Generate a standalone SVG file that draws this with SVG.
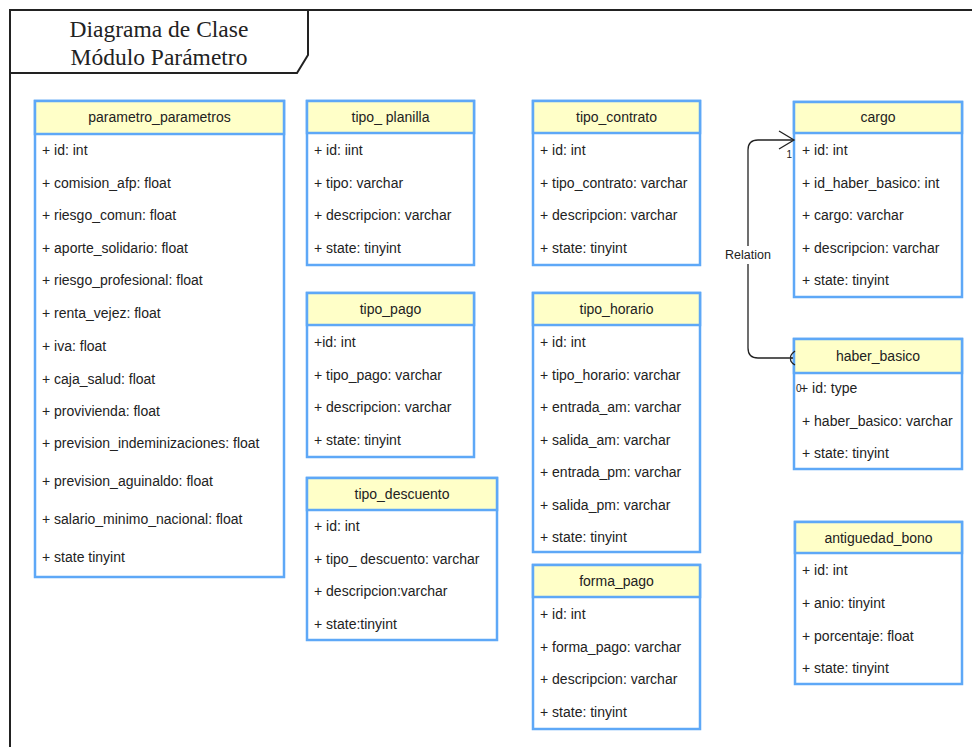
<svg xmlns="http://www.w3.org/2000/svg" width="972" height="747" viewBox="0 0 972 747">
<style>
.box{fill:#ffffff;stroke:#5ea8f7;stroke-width:2.5}
.hdr{fill:#ffffc8;stroke:#5ea8f7;stroke-width:2.5}
.t{font-family:"Liberation Sans",Arial,sans-serif;font-size:14px;fill:#222222}
.h{font-family:"Liberation Sans",Arial,sans-serif;font-size:14px;fill:#222222;text-anchor:middle}
.frame{fill:none;stroke:#222222;stroke-width:2}
.title{font-family:"Liberation Serif","Times New Roman",serif;font-size:23.5px;fill:#222222;text-anchor:middle}
.edge{fill:none;stroke:#222222;stroke-width:1.3}
.lbl{font-family:"Liberation Sans",Arial,sans-serif;font-size:12px;fill:#222222}
</style>
<rect width="972" height="747" fill="#ffffff"/>
<g id="frame">
<path class="frame" d="M10,747 V10 H972"/>
<path class="frame" d="M10,73 H297 L308,55 V10"/>
<text class="title" x="159" y="37">Diagrama de Clase</text>
<text class="title" x="159" y="65">Módulo Parámetro</text>
</g>
<g id="parametro_parametros">
<rect class="box" x="35" y="101" width="249" height="476"/>
<rect class="hdr" x="35" y="101" width="249" height="33"/>
<text class="h" x="159.5" y="122">parametro_parametros</text>
<text class="t" x="42" y="155">+ id: int</text>
<text class="t" x="42" y="188">+ comision_afp: float</text>
<text class="t" x="42" y="220">+ riesgo_comun: float</text>
<text class="t" x="42" y="253">+ aporte_solidario: float</text>
<text class="t" x="42" y="285">+ riesgo_profesional: float</text>
<text class="t" x="42" y="318">+ renta_vejez: float</text>
<text class="t" x="42" y="351">+ iva: float</text>
<text class="t" x="42" y="384">+ caja_salud: float</text>
<text class="t" x="42" y="416">+ provivienda: float</text>
<text class="t" x="42" y="448">+ prevision_indeminizaciones: float</text>
<text class="t" x="42" y="486">+ prevision_aguinaldo: float</text>
<text class="t" x="42" y="524">+ salario_minimo_nacional: float</text>
<text class="t" x="42" y="562">+ state tinyint</text>
</g>
<g id="tipo_planilla">
<rect class="box" x="307" y="101" width="167" height="164"/>
<rect class="hdr" x="307" y="101" width="167" height="32"/>
<text class="h" x="390.5" y="122">tipo_ planilla</text>
<text class="t" x="314" y="155">+ id: iint</text>
<text class="t" x="314" y="188">+ tipo: varchar</text>
<text class="t" x="314" y="220">+ descripcion: varchar</text>
<text class="t" x="314" y="253">+ state: tinyint</text>
</g>
<g id="tipo_contrato">
<rect class="box" x="533" y="101" width="167" height="164"/>
<rect class="hdr" x="533" y="101" width="167" height="32"/>
<text class="h" x="616.5" y="122">tipo_contrato</text>
<text class="t" x="540" y="155">+ id: int</text>
<text class="t" x="540" y="188">+ tipo_contrato: varchar</text>
<text class="t" x="540" y="220">+ descripcion: varchar</text>
<text class="t" x="540" y="253">+ state: tinyint</text>
</g>
<g id="cargo">
<rect class="box" x="794" y="102" width="168" height="195"/>
<rect class="hdr" x="794" y="102" width="168" height="31"/>
<text class="h" x="878" y="122">cargo</text>
<text class="t" x="802" y="155">+ id: int</text>
<text class="t" x="802" y="188">+ id_haber_basico: int</text>
<text class="t" x="802" y="220">+ cargo: varchar</text>
<text class="t" x="802" y="253">+ descripcion: varchar</text>
<text class="t" x="802" y="285">+ state: tinyint</text>
</g>
<g id="haber_basico">
<rect class="box" x="794" y="339" width="168" height="130"/>
<rect class="hdr" x="794" y="339" width="168" height="34"/>
<text class="h" x="878" y="361">haber_basico</text>
<text class="t" x="800" y="393">+ id: type</text>
<text class="t" x="802" y="426">+ haber_basico: varchar</text>
<text class="t" x="802" y="458">+ state: tinyint</text>
</g>
<g id="tipo_pago">
<rect class="box" x="307" y="293" width="167" height="164"/>
<rect class="hdr" x="307" y="293" width="167" height="32"/>
<text class="h" x="390.5" y="314">tipo_pago</text>
<text class="t" x="314" y="347">+id: int</text>
<text class="t" x="314" y="380">+ tipo_pago: varchar</text>
<text class="t" x="314" y="412">+ descripcion: varchar</text>
<text class="t" x="314" y="445">+ state: tinyint</text>
</g>
<g id="tipo_horario">
<rect class="box" x="533" y="293" width="167" height="259"/>
<rect class="hdr" x="533" y="293" width="167" height="32"/>
<text class="h" x="616.5" y="314">tipo_horario</text>
<text class="t" x="540" y="347">+ id: int</text>
<text class="t" x="540" y="380">+ tipo_horario: varchar</text>
<text class="t" x="540" y="412">+ entrada_am: varchar</text>
<text class="t" x="540" y="445">+ salida_am: varchar</text>
<text class="t" x="540" y="477">+ entrada_pm: varchar</text>
<text class="t" x="540" y="510">+ salida_pm: varchar</text>
<text class="t" x="540" y="542">+ state: tinyint</text>
</g>
<g id="tipo_descuento">
<rect class="box" x="307" y="478" width="190" height="162"/>
<rect class="hdr" x="307" y="478" width="190" height="32"/>
<text class="h" x="402" y="499">tipo_descuento</text>
<text class="t" x="314" y="531">+ id: int</text>
<text class="t" x="314" y="564">+ tipo_ descuento: varchar</text>
<text class="t" x="314" y="596">+ descripcion:varchar</text>
<text class="t" x="314" y="629">+ state:tinyint</text>
</g>
<g id="forma_pago">
<rect class="box" x="533" y="565" width="167" height="164"/>
<rect class="hdr" x="533" y="565" width="167" height="32"/>
<text class="h" x="616.5" y="586">forma_pago</text>
<text class="t" x="540" y="619">+ id: int</text>
<text class="t" x="540" y="652">+ forma_pago: varchar</text>
<text class="t" x="540" y="684">+ descripcion: varchar</text>
<text class="t" x="540" y="717">+ state: tinyint</text>
</g>
<g id="antiguedad_bono">
<rect class="box" x="795" y="522" width="167" height="162"/>
<rect class="hdr" x="795" y="522" width="167" height="31"/>
<text class="h" x="878.5" y="543">antiguedad_bono</text>
<text class="t" x="802" y="575">+ id: int</text>
<text class="t" x="802" y="608">+ anio: tinyint</text>
<text class="t" x="802" y="641">+ porcentaje: float</text>
<text class="t" x="802" y="673">+ state: tinyint</text>
</g>
<g id="connectors">
<path class="edge" d="M793,358 H758 Q748,358 748,348 V150 Q748,140 758,140 H793"/>
<path class="edge" d="M779,131 L794,140 L779,149"/>
<path class="edge" d="M795,351 Q789,356 791,358 Q789,361 795,365"/>
<rect x="722" y="246" width="52" height="18" fill="#ffffff"/>
<text class="lbl" x="748" y="259" text-anchor="middle" style="font-size:12.5px">Relation</text>
<text class="lbl" x="792" y="158" text-anchor="end" style="font-size:10px">1</text>
<text class="lbl" x="796" y="392" style="font-size:10px">0</text>
</g>
</svg>
